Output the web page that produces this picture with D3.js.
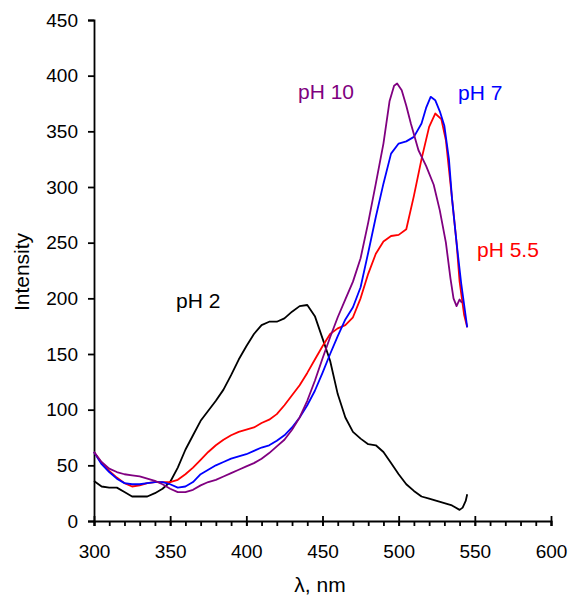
<!DOCTYPE html>
<html>
<head>
	<title>Fluorescence spectra vs pH</title>
	<script src="https://d3js.org/d3.v7.min.js"></script>
	<style>
		body { margin: 0; background: #fff; }
		text { font-family: "Liberation Sans", Arial, sans-serif; fill: #000; }
		.tick text { font-size: 19px; }
		.axis path, .axis line { stroke: #000; stroke-width: 1.8px; }
		.curve { fill: none; stroke-width: 1.8px; stroke-linejoin: round; }
		.label { font-size: 21px; }
		.axis-title { font-size: 21px; }
	</style>
</head>
<body>
	<div id="chart"></div>
	<script>
		// wavelengths (nm) and intensities
		var wl2 = [300,305,310,315,320,325,330,335,340,345,350,355,360,365,370,375,380,385,390,395,400,405,410,415,420,425,430,435,440,445,450,455,460,465,470,475,480,485,490,495,500,505,510,515,520,525,530,535,540,542,544,545];
		var ph2 = [36,31,30,30,26,22,22,22,25,29,35,48,64,77,90,99,108,118,131,145,157,168,176,179,179,182,188,193,194,184,164,144,114,93,80,74,69,68,62,52,42,33,27,22,20,18,16,14,10,12,18,24];

		var wl55 = [300,305,310,315,320,325,330,335,340,345,350,355,360,365,370,375,380,385,390,395,400,405,410,415,420,425,430,435,440,445,450,455,460,465,470,475,480,485,490,495,500,505,510,515,520,524,528,531,535,538,540,543,545];
		var ph55 = [62,52,45,39,34,31,32,34,35,35,35,37,42,48,55,62,68,73,77,80,82,84,88,91,96,104,113,122,133,145,157,168,173,176,183,200,222,240,251,256,257,262,292,325,354,366,361,342,290,250,215,185,174];

		var wl7 = [300,305,310,315,320,325,330,335,340,345,350,355,360,365,370,375,380,385,390,395,400,405,410,415,420,425,430,435,440,445,450,455,460,465,470,475,480,485,490,495,500,505,510,515,518,521,524,527,530,533,535,538,541,545];
		var ph7 = [62,51,44,38,34,33,33,34,35,35,33,30,31,35,42,46,50,53,56,58,60,63,66,68,72,77,84,93,104,117,133,150,166,181,192,210,241,273,303,330,339,341,345,357,371,381,378,368,355,325,290,250,214,174];

		var wl10 = [300,305,310,315,320,325,330,335,340,345,350,355,360,365,370,375,380,385,390,395,400,405,410,415,420,425,430,435,440,445,450,455,460,465,470,475,480,485,490,494,497,499,502,505,508,513,518,523,527,531,534,536,538,540,541.5];
		var ph10 = [62,53,47,44,42,41,40,38,36,33,29,26,26,28,32,35,37,40,43,46,49,52,56,61,67,73,82,93,108,126,146,165,183,199,215,236,268,303,339,377,391,393,387,373,357,333,319,302,279,250,218,200,193,199,196];

		var seriesNames = ["pH 2", "pH 5.5", "pH 7", "pH 10"];
		var seriesColors = ["#000000", "#ff0000", "#0000ff", "#800080"];
		var seriesX = [wl2, wl55, wl7, wl10];
		var seriesY = [ph2, ph55, ph7, ph10];

		// label anchor points in data units
		var labelX = [353.8, 551.4, 539, 433.9];
		var labelY = [191.3, 237, 378, 379];

		var xTicks = d3.range(300, 601, 50);
		var xMinor = d3.range(300, 601, 10);
		var yTicks = d3.range(0, 451, 50);

		var width = 570, height = 598;

		var svg = d3.select("#chart")
			.append("svg")
			.attr("width", width)
			.attr("height", height);

		var x = d3.scaleLinear().domain([300, 600]).range([94, 551]);
		var y = d3.scaleLinear().domain([0, 450]).range([521, 20]);

		// minor ticks on the x axis (below only)
		svg.append("g")
			.attr("class", "axis")
			.attr("transform", "translate(0,521)")
			.call(d3.axisBottom(x).tickValues(xMinor).tickSize(5).tickFormat(""))
			.select(".domain").remove();

		// major ticks crossing the axis
		var xAxis = svg.append("g")
			.attr("class", "axis")
			.attr("transform", "translate(0,521)")
			.call(d3.axisBottom(x).tickValues(xTicks).tickSizeOuter(0).tickSize(5).tickPadding(19));
		xAxis.selectAll(".tick line").attr("y1", -5).attr("y2", 5);

		var yAxis = svg.append("g")
			.attr("class", "axis")
			.attr("transform", "translate(94,0)")
			.call(d3.axisLeft(y).tickValues(yTicks).tickSizeOuter(0).tickSize(6).tickPadding(10));

		var line = d3.line()
			.x(function(d) { return x(d[0]); })
			.y(function(d) { return y(d[1]); });

		seriesNames.forEach(function(name, i) {
			var pts = seriesX[i].map(function(w, j) { return [w, seriesY[i][j]]; });
			svg.append("path")
				.datum(pts)
				.attr("class", "curve")
				.attr("stroke", seriesColors[i])
				.attr("d", line);

			svg.append("text")
				.attr("class", "label")
				.attr("x", x(labelX[i]))
				.attr("y", y(labelY[i]))
				.style("fill", seriesColors[i])
				.text(name);
		});

		// axis titles
		svg.append("text")
			.attr("class", "axis-title")
			.attr("text-anchor", "middle")
			.attr("transform", "translate(29,272) rotate(-90)")
			.text("Intensity");

		svg.append("text")
			.attr("class", "axis-title")
			.attr("text-anchor", "middle")
			.attr("x", 320)
			.attr("y", 592)
			.text("λ, nm");
	</script>
</body>
</html>
